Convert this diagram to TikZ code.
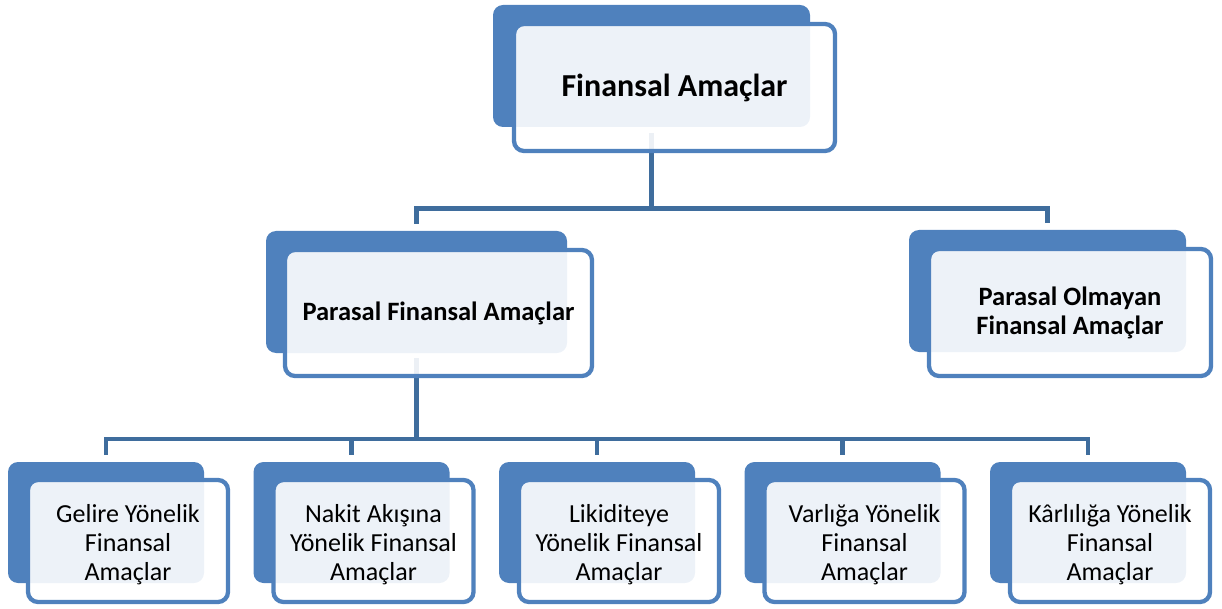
\documentclass[tikz,border=0pt]{standalone}
\usepackage{fontspec}
\setmainfont{Carlito}
\definecolor{accent}{HTML}{4F81BD}
\definecolor{linkblue}{HTML}{3F6D9D}
\tikzset{
  backbox/.style={shape=rectangle, rounded corners=10pt, fill=accent, inner sep=0pt},
  frontbox/.style={shape=rectangle, rounded corners=10pt, draw=accent, line width=4.3pt,
                   fill=white, fill opacity=0.9, text opacity=1, inner sep=0pt, align=center},
  label/.style={inner sep=0pt, align=center},
  conn/.style={draw=linkblue, line width=4.8pt},
  toptext/.style={font=\fontsize{32}{38}\selectfont\bfseries},
  midtext/.style={font=\fontsize{26.5}{29}\selectfont\bfseries},
  lowtext/.style={font=\fontsize{26}{29}\selectfont},
}
\begin{document}
\begin{tikzpicture}[x=1pt, y=-1pt]
\useasboundingbox (0,0) rectangle (1222,609);

% hubs of the two branchings
\coordinate (hubA) at (651.5,208.5);
\coordinate (hubB) at (416.5,439);

% back panels
\node[backbox, minimum width=317pt, minimum height=122pt] (tb) at (651.5,66) {};
\node[backbox, minimum width=301pt, minimum height=122pt] (lb) at (416.5,292) {};
\node[backbox, minimum width=277pt, minimum height=122pt] (rb) at (1047.5,291) {};
\foreach \i/\x in {1/106, 2/351.5, 3/597, 4/842.5, 5/1088}
  \node[backbox, minimum width=196pt, minimum height=121pt] (b\i) at (\x,522.5) {};

% connectors
\draw[conn] ([yshift=-6pt]tb.south) -- (hubA);
\draw[conn] ([yshift=7pt]lb.north) -- (lb.north |- hubA) -- (rb.north |- hubA) -- ([yshift=7pt]rb.north);
\draw[conn] ([yshift=-5pt]lb.south) -- (hubB);
\draw[conn] ([yshift=7pt]b1.north) -- (b1.north |- hubB) -- (b5.north |- hubB) -- ([yshift=7pt]b5.north);
\foreach \i in {2,3,4}
  \draw[conn] (b\i.north |- hubB) -- ([yshift=7pt]b\i.north);

% front panels with their labels
\node[frontbox, toptext, minimum width=321pt, minimum height=127pt] (tf) at (674.5,87.5) {Finansal Amaçlar};
\node[frontbox, midtext, minimum width=307pt, minimum height=126pt] (lf) at (438.5,313) {Parasal Finansal Amaçlar};
\node[frontbox, midtext, minimum width=282pt, minimum height=127pt] (rf) at (1070,312.5) {Parasal Olmayan\\Finansal Amaçlar};
\foreach \i/\x/\t in {1/128/{Gelire Yönelik\\Finansal\\Amaçlar},
                      2/373.5/{Nakit Akışına\\Yönelik Finansal\\Amaçlar},
                      3/619/{Likiditeye\\Yönelik Finansal\\Amaçlar},
                      4/864.5/{Varlığa Yönelik\\Finansal\\Amaçlar},
                      5/1110/{Kârlılığa Yönelik\\Finansal\\Amaçlar}}
{
  \node[frontbox, minimum width=200pt, minimum height=122pt] (f\i) at (\x,541) {};
  \node[label, lowtext] (t\i) at ([yshift=-4pt]f\i.center) {\t};
}
\end{tikzpicture}
\end{document}
